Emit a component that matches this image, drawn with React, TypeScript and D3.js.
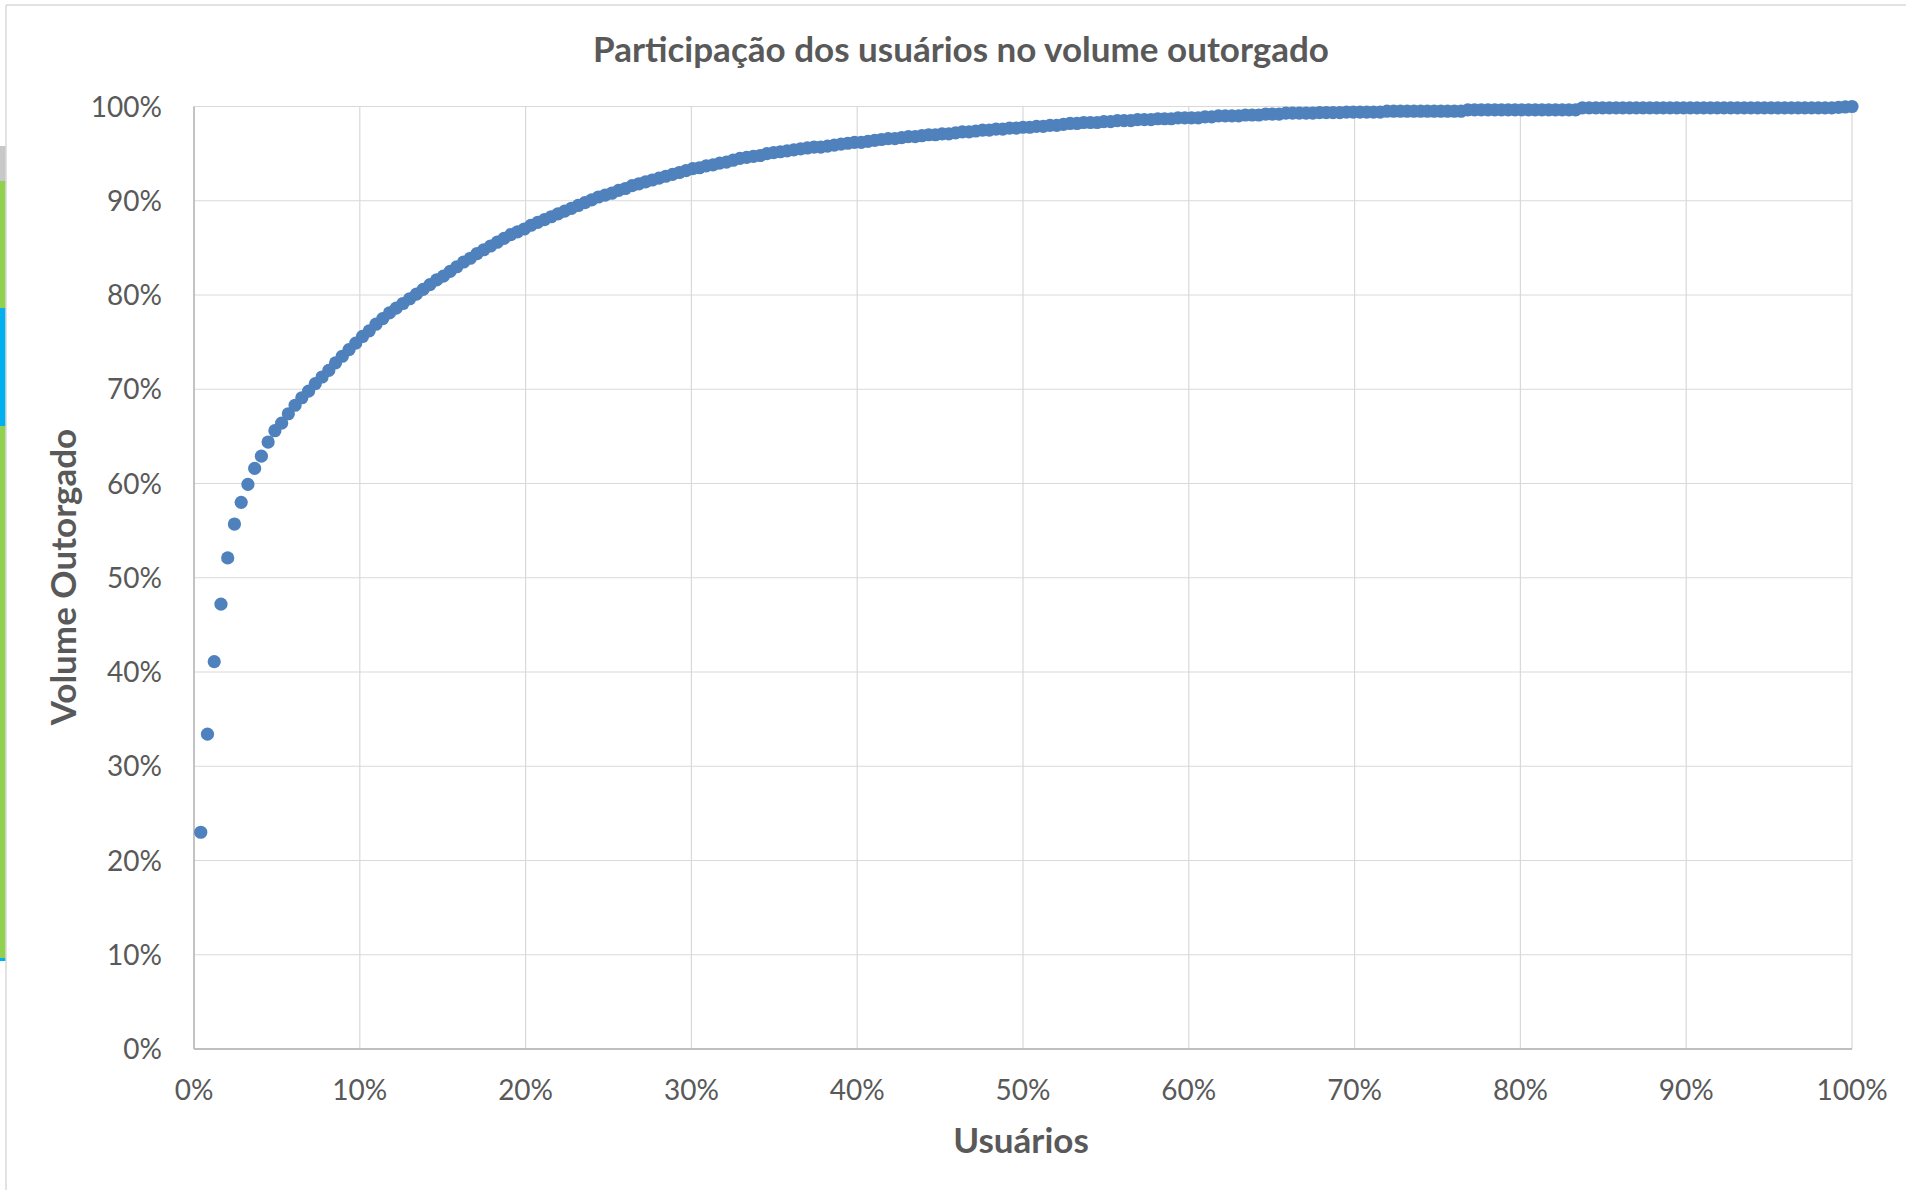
import React from "react";
import * as d3 from "d3";

const chartTitle = "Participação dos usuários no volume outorgado";
const xAxisTitle = "Usuários";
const yAxisTitle = "Volume Outorgado";
const xTickValues = [0, 10, 20, 30, 40, 50, 60, 70, 80, 90, 100];
const yTickValues = [0, 10, 20, 30, 40, 50, 60, 70, 80, 90, 100];

// cumulative share of granted volume (%) for each user, ordered by rank
const volumeShare = [
  23.0, 33.4, 41.1, 47.2, 52.1, 55.7, 58.0, 59.9, 61.6, 62.9,
  64.4, 65.6, 66.4, 67.4, 68.3, 69.1, 69.8, 70.6, 71.3, 72.0,
  72.8, 73.5, 74.2, 74.9, 75.6, 76.2, 76.9, 77.5, 78.1, 78.6,
  79.1, 79.6, 80.1, 80.6, 81.1, 81.6, 82.0, 82.5, 83.0, 83.5,
  83.9, 84.4, 84.8, 85.2, 85.6, 86.0, 86.4, 86.7, 87.0, 87.4,
  87.7, 88.0, 88.3, 88.6, 88.9, 89.2, 89.5, 89.8, 90.1, 90.4,
  90.6, 90.8, 91.1, 91.3, 91.6, 91.8, 92.0, 92.2, 92.4, 92.6,
  92.8, 93.0, 93.2, 93.4, 93.5, 93.7, 93.8, 94.0, 94.1, 94.3,
  94.5, 94.6, 94.7, 94.8, 95.0, 95.1, 95.2, 95.3, 95.4, 95.5,
  95.6, 95.7, 95.7, 95.8, 95.9, 96.0, 96.1, 96.2, 96.2, 96.3,
  96.4, 96.5, 96.6, 96.6, 96.7, 96.8, 96.8, 96.9, 97.0, 97.0,
  97.1, 97.1, 97.2, 97.3, 97.3, 97.4, 97.5, 97.5, 97.6, 97.6,
  97.7, 97.7, 97.8, 97.8, 97.9, 97.9, 98.0, 98.0, 98.1, 98.2,
  98.2, 98.3, 98.3, 98.3, 98.4, 98.4, 98.5, 98.5, 98.5, 98.6,
  98.6, 98.6, 98.7, 98.7, 98.7, 98.8, 98.8, 98.8, 98.8, 98.9,
  98.9, 99.0, 99.0, 99.0, 99.0, 99.1, 99.1, 99.1, 99.2, 99.2,
  99.2, 99.3, 99.3, 99.3, 99.3, 99.3, 99.35, 99.35, 99.35, 99.35,
  99.4, 99.4, 99.4, 99.4, 99.4, 99.4, 99.5, 99.5, 99.5, 99.5,
  99.5, 99.5, 99.5, 99.5, 99.5, 99.5, 99.5, 99.5, 99.65, 99.65,
  99.65, 99.65, 99.65, 99.65, 99.65, 99.65, 99.65, 99.65, 99.65, 99.65,
  99.65, 99.65, 99.65, 99.65, 99.65, 99.85, 99.85, 99.85, 99.85, 99.85,
  99.85, 99.85, 99.85, 99.85, 99.85, 99.85, 99.85, 99.85, 99.85, 99.85,
  99.85, 99.85, 99.85, 99.85, 99.85, 99.85, 99.85, 99.85, 99.85, 99.85,
  99.85, 99.85, 99.85, 99.85, 99.85, 99.85, 99.85, 99.85, 99.85, 99.85,
  99.85, 99.85, 99.85, 99.9, 99.95, 100.0,
];

const W = 1906;
const H = 1190;
const plot = { left: 194, right: 1852, top: 106.5, bottom: 1049 };
const textColor = "#595959";
const gridColor = "#d9d9d9";
const axisColor = "#bfbfbf";
const markerColor = "#4f81bd";
const font = "Lato, 'Open Sans', sans-serif";

export default function App() {
  const n = volumeShare.length;
  const points = volumeShare.map((v, i) => ({ user: ((i + 1) / n) * 100, volume: v }));

  const x = d3.scaleLinear().domain([0, 100]).range([plot.left, plot.right]);
  const y = d3.scaleLinear().domain([0, 100]).range([plot.bottom, plot.top]);
  const fmt = (d: number) => `${d}%`;

  return (
    <svg
      width={W}
      height={H}
      style={{ position: "absolute", left: 0, top: 0, background: "#fff" }}
      fontFamily={font}
    >
      <rect x={0} y={0} width={W} height={H} fill="#fff" />
      {/* spreadsheet strip visible at the left edge */}
      <rect x={0} y={146} width={6} height={35} fill="#c8c8c8" />
      <rect x={0} y={181} width={6} height={778} fill="#92d050" />
      <rect x={0} y={308} width={6} height={118} fill="#00b0f0" />
      <rect x={0} y={958} width={6} height={3} fill="#00b0f0" />
      {/* chart area border */}
      <line x1={6} x2={W} y1={5} y2={5} stroke="#d9d9d9" strokeWidth={1.5} />
      <line x1={6} x2={6} y1={5} y2={H} stroke="#d9d9d9" strokeWidth={1.5} />

      {/* gridlines */}
      {yTickValues.map((t) => (
        <line key={`gy${t}`} x1={plot.left} x2={plot.right} y1={y(t)} y2={y(t)} stroke={gridColor} strokeWidth={1.2} />
      ))}
      {xTickValues.map((t) => (
        <line key={`gx${t}`} x1={x(t)} x2={x(t)} y1={plot.top} y2={plot.bottom} stroke={gridColor} strokeWidth={1.2} />
      ))}
      {/* axes */}
      <line x1={plot.left} x2={plot.left} y1={plot.top} y2={plot.bottom} stroke={axisColor} strokeWidth={1.8} />
      <line x1={plot.left} x2={plot.right} y1={plot.bottom} y2={plot.bottom} stroke={axisColor} strokeWidth={1.8} />

      {/* tick labels */}
      {yTickValues.map((t) => (
        <text key={`ty${t}`} x={162} y={y(t)} dy="0.36em" textAnchor="end" fontSize={28} fill={textColor}>
          {fmt(t)}
        </text>
      ))}
      {xTickValues.map((t) => (
        <text key={`tx${t}`} x={x(t)} y={1090} dy="0.36em" textAnchor="middle" fontSize={28} fill={textColor}>
          {fmt(t)}
        </text>
      ))}

      {/* points */}
      {points.map((p, i) => (
        <circle key={i} cx={x(p.user)} cy={y(p.volume)} r={6.6} fill={markerColor} />
      ))}

      {/* titles */}
      <text x={961} y={49} dy="0.36em" textAnchor="middle" fontSize={35} fontWeight={700} fill={textColor}>
        {chartTitle}
      </text>
      <text x={1021} y={1140} dy="0.36em" textAnchor="middle" fontSize={35} fontWeight={700} fill={textColor}>
        {xAxisTitle}
      </text>
      <text
        transform={`translate(63,577) rotate(-90)`}
        dy="0.36em"
        textAnchor="middle"
        fontSize={35}
        fontWeight={700}
        fill={textColor}
      >
        {yAxisTitle}
      </text>
    </svg>
  );
}
